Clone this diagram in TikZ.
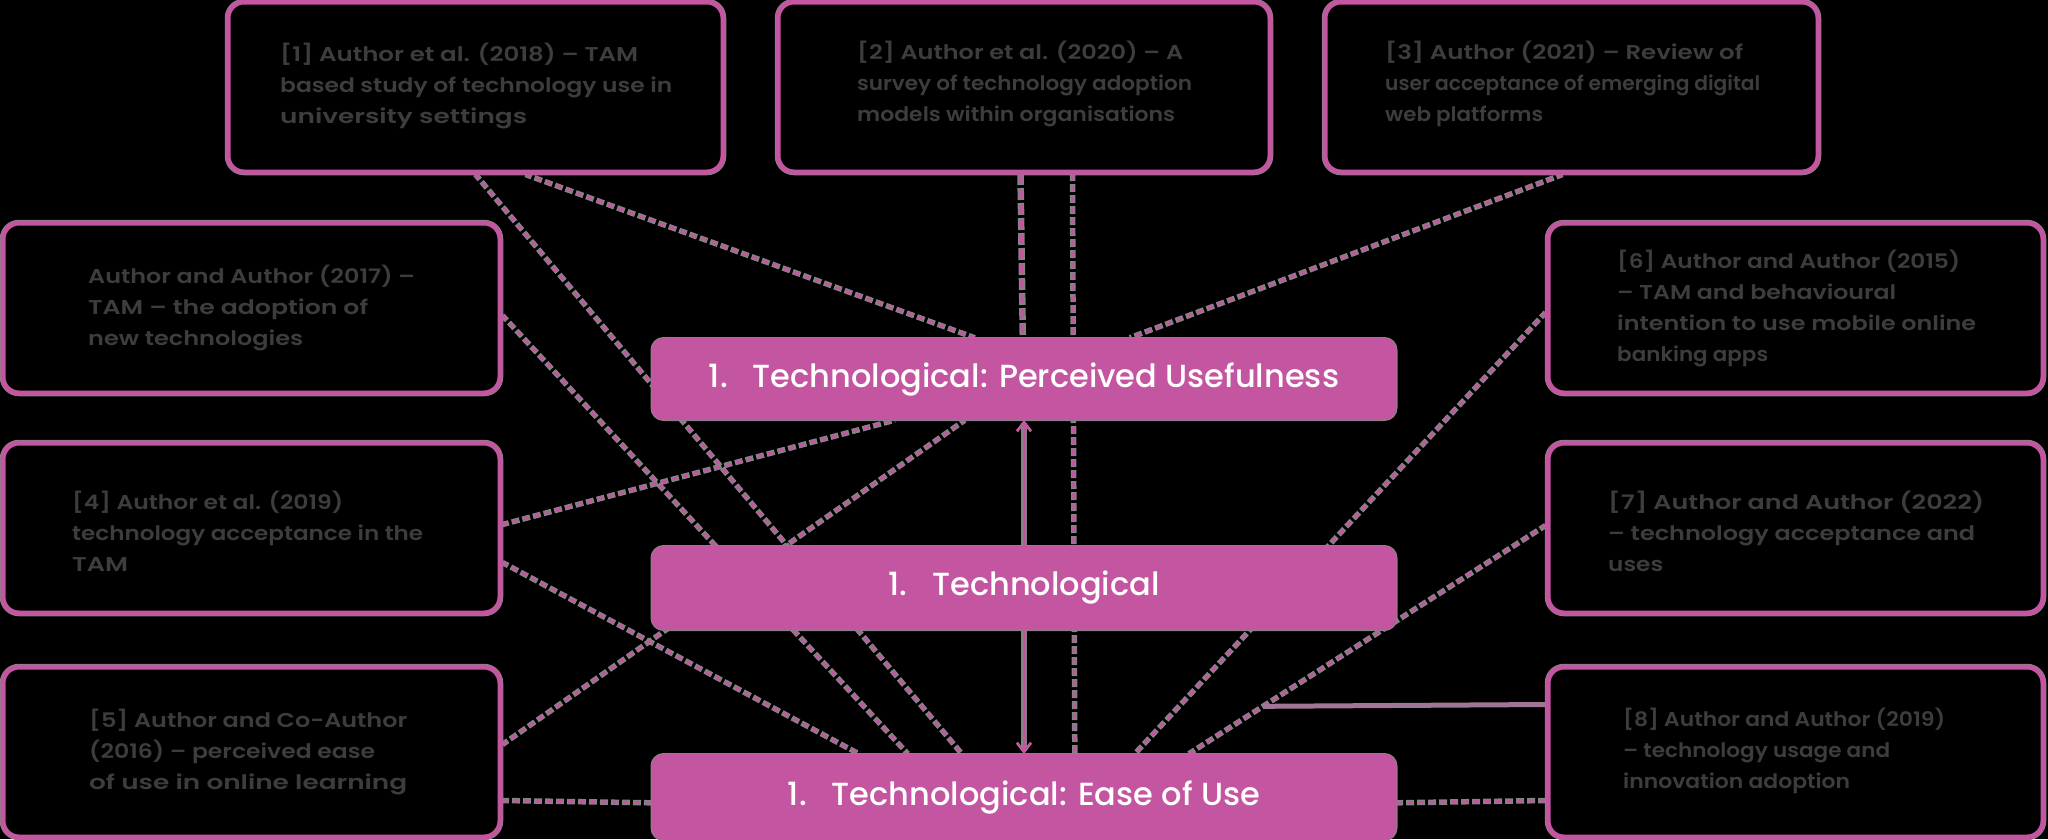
\documentclass[tikz,border=0pt]{standalone}
\usepackage{fontspec}
\usepackage{graphicx}
\IfFontExistsTF{Poppins Medium}{\newfontfamily\popm{Poppins Medium}}{\newfontfamily\popm{Poppins}[FakeBold=1]}
\IfFontExistsTF{Poppins SemiBold}{\newfontfamily\pops{Poppins SemiBold}}{\newfontfamily\pops{Poppins}[FakeBold=1.5]}
\usetikzlibrary{arrows.meta,calc}
\definecolor{pk}{HTML}{C455A0}
\definecolor{txg}{HTML}{3D3D3D}
\definecolor{gry}{HTML}{858585}
\definecolor{mauve}{HTML}{A07595}
\pgfdeclarelayer{bg}\pgfdeclarelayer{lines}\pgfsetlayers{bg,lines,main}
\newcommand\glin[2]{\resizebox{#1pt}{\height}{#2}}
\begin{document}
\begin{tikzpicture}[x=1pt,y=-1pt,
  obox/.style={draw=pk, line width=5pt, rounded corners=16pt, fill=black, minimum width=495pt, minimum height=170pt, inner sep=0pt,
    preaction={draw=gry, line width=6.5pt}},
  cbox/.style={fill=pk, rounded corners=12pt, minimum width=745pt, text=white, font=\popm\fontsize{32}{38}\selectfont, inner sep=0pt,
    preaction={draw=gry, line width=2pt}},
  btxt/.style={anchor=west, align=left, text=txg, font=\pops\fontsize{20}{31}\selectfont, inner sep=0pt},
  dotl/.style={draw=pk, line width=3pt, dash pattern=on 5pt off 6pt,
    preaction={draw=gry, line width=5.5pt, dash pattern=on 8pt off 3pt, dash phase=1.5pt}},
  dashl/.style={draw=pk, line width=3.5pt, dash pattern=on 9pt off 6pt,
    preaction={draw=gry, line width=6.5pt, dash pattern=on 12pt off 3pt, dash phase=1.5pt}},
  soll/.style={draw=pk, line width=3pt, preaction={draw=gry, line width=5.5pt}},
  arr/.style={soll, -{Straight Barb[length=9pt,width=14pt,line width=2.5pt]}}]
\useasboundingbox (0,0) rectangle (2048,839);
\begin{pgfonlayer}{bg}
  \fill[black] (0,0) rectangle (2048,839);
\end{pgfonlayer}

% outline boxes
\node[obox] (t1) at (475.5,87) {};
\node[obox, minimum width=492pt] (t2) at (1024,87) {};
\node[obox, minimum width=493pt] (t3) at (1571.5,87) {};
\node[obox, minimum width=497pt] (l1) at (251.5,308) {};
\node[obox, minimum width=497pt] (l2) at (251.5,528) {};
\node[obox, minimum width=497pt] (l3) at (251.5,752) {};
\node[obox] (r1) at (1795.5,308) {};
\node[obox] (r2) at (1795.5,528) {};
\node[obox] (r3) at (1795.5,752) {};

% central boxes
\node[cbox, minimum height=82pt] (p) at (1024,379) {1.\hspace{25pt}Technological: Perceived Usefulness};
\node[cbox, minimum height=84pt] (tc) at (1024,588) {1.\hspace{25pt}Technological};
\node[cbox, minimum height=86pt] (e) at (1024,797) {1.\hspace{25pt}Technological: Ease of Use};

% box texts
\node[btxt] (t1x) at (280,86) {\glin{358}{[1] Author et al. (2018) – TAM}\\\glin{392}{based study of technology use in}\\\glin{247}{university settings}};
\node[btxt] (t2x) at (857,84) {\glin{326}{[2] Author et al. (2020) – A}\\\glin{335}{survey of technology adoption}\\\glin{318}{models within organisations}};
\node[btxt] (t3x) at (1385,84) {\glin{358}{[3] Author (2021) – Review of}\\\glin{375}{user acceptance of emerging digital}\\\glin{158}{web platforms}};
\node[btxt] (l1x) at (88,308) {\glin{327}{Author and Author (2017) –}\\\glin{280}{TAM – the adoption of}\\\glin{215}{new technologies}};
\node[btxt] (l2x) at (72,531) {\glin{271}{[4] Author et al. (2019)}\\\glin{351}{technology acceptance in the}\\\glin{56}{TAM}};
\node[btxt] (l3x) at (89,752) {\glin{318}{[5] Author and Co-Author}\\\glin{286}{(2016) – perceived ease}\\\glin{318}{of use in online learning}};
\node[btxt] (r1x) at (1617,308) {\glin{343}{[6] Author and Author (2015)}\\\glin{279}{– TAM and behavioural}\\\glin{359}{intention to use mobile online}\\\glin{151}{banking apps}};
\node[btxt] (r2x) at (1608,531) {\glin{376}{[7] Author and Author (2022)}\\\glin{367}{– technology acceptance and}\\\glin{55}{uses}};
\node[btxt] (r3x) at (1623,751) {\glin{322}{[8] Author and Author (2019)}\\\glin{267}{– technology usage and}\\\glin{227}{innovation adoption}};

% connector end points
\coordinate (a1) at ($(t1.south west)+(250,0)$);
\coordinate (a2) at ($(e.north west)+(310.5,0)$);
\coordinate (b1) at ($(t1.south west)+(300,0)$);
\coordinate (b2) at ($(p.north west)+(323.5,0)$);
\coordinate (c1) at ($(l1.north east)+(0,95)$);
\coordinate (c2) at ($(e.north west)+(256.5,0)$);
\coordinate (d1) at ($(l2.north east)+(0,84)$);
\coordinate (d2) at ($(p.south west)+(243.5,0)$);
\coordinate (f1) at ($(l2.north east)+(0,122)$);
\coordinate (f2) at ($(e.north west)+(207.5,0)$);
\coordinate (g1) at ($(l3.north east)+(0,80)$);
\coordinate (g2) at ($(p.south west)+(313.5,0)$);
\coordinate (h1) at ($(l3.north east)+(0,136)$);
\coordinate (h2) at ($(e.north west)+(0,49)$);
\coordinate (k1) at ($(t2.south west)+(245,0)$);
\coordinate (k2) at ($(p.north west)+(371.5,0)$);
\coordinate (m1) at ($(t2.south west)+(297,0)$);
\coordinate (m2) at ($(e.north west)+(423.5,0)$);
\coordinate (n1) at ($(t3.south west)+(240,0)$);
\coordinate (n2) at ($(p.north west)+(478.5,0)$);
\coordinate (q1) at ($(r1.north west)+(0,92)$);
\coordinate (q2) at ($(e.north west)+(483.5,0)$);
\coordinate (s1) at ($(r2.north west)+(0,85)$);
\coordinate (s2) at ($(e.north west)+(537.5,0)$);
\coordinate (u1) at ($(r3.north west)+(0,40)$);
\coordinate (uj) at ($(s1)!0.792!(s2)$);
\coordinate (v1) at ($(e.north east)+(0,49)$);
\coordinate (v2) at ($(r3.north west)+(0,136)$);

\begin{pgfonlayer}{lines}
  \draw[dotl] (a1) -- (a2);
  \draw[dotl] (b1) -- (b2);
  \draw[dotl] (c1) -- (c2);
  \draw[dotl] (d1) -- (d2);
  \draw[dotl] (f1) -- (f2);
  \draw[dotl] (g1) -- (g2);
  \draw[dotl] (h1) -- (h2);
  \draw[dashl] (k1) -- (k2);
  \draw[dotl] (m1) -- (m2);
  \draw[dotl] (n1) -- (n2);
  \draw[dotl] (q1) -- (q2);
  \draw[dotl] (s1) -- (s2);
  \draw[draw=mauve, line width=5pt] (u1) -- (uj);
  \draw[dotl] (v1) -- (v2);
\end{pgfonlayer}
\draw[arr] (tc.north) -- (p.south);
\draw[arr] (tc.south) -- (e.north);
\end{tikzpicture}
\end{document}
